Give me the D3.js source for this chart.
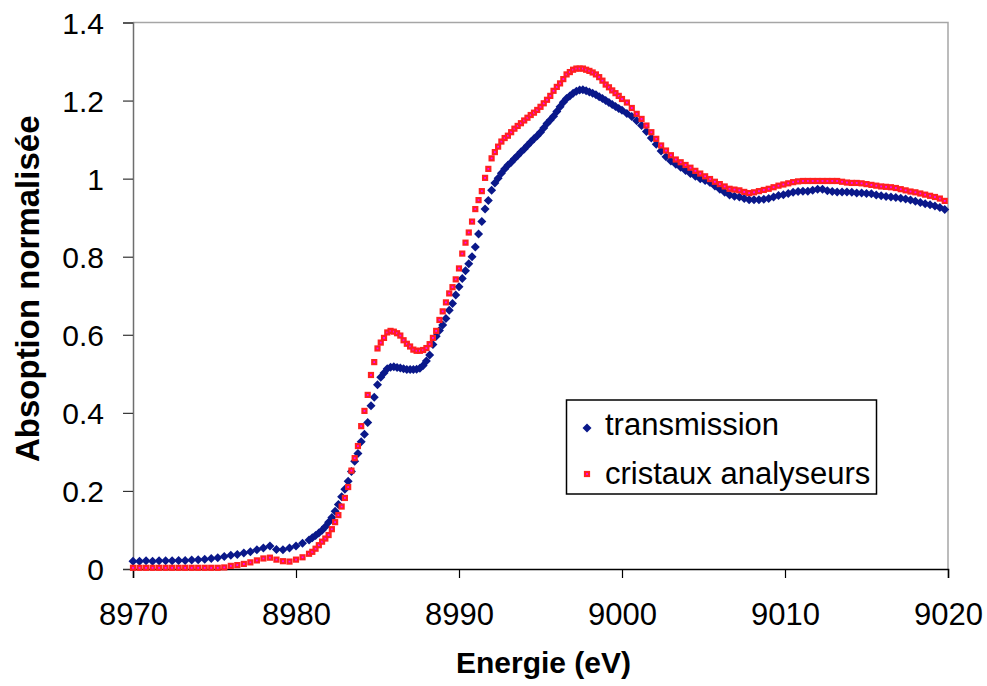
<!DOCTYPE html>
<html>
<head>
<meta charset="utf-8">
<script src="https://cdn.jsdelivr.net/npm/d3@7"></script>
<style>
  html, body { margin: 0; padding: 0; background: #fff; }
  svg { display: block; }
  text { font-family: "Liberation Sans", Arial, sans-serif; }
</style>
</head>
<body>
<svg id="chart" width="987" height="686"></svg>
<script>
// ---- Data ----
const energies = [
  8970, 8970.4, 8970.8, 8971.2, 8971.6, 8972, 8972.4, 8972.8, 8973.2, 8973.6,
  8974, 8974.4, 8974.8, 8975.2, 8975.6, 8976, 8976.4, 8976.8, 8977.2, 8977.6,
  8978, 8978.4, 8978.8, 8979.2, 8979.6, 8980, 8980.4, 8980.8,
  8981, 8981.2, 8981.4, 8981.6, 8981.8, 8982, 8982.2, 8982.4, 8982.6, 8982.8,
  8983, 8983.2, 8983.4, 8983.6, 8983.8, 8984, 8984.2, 8984.4, 8984.6, 8984.8,
  8985, 8985.2, 8985.4, 8985.6, 8985.8, 8986, 8986.2, 8986.4, 8986.6, 8986.8,
  8987, 8987.2, 8987.4, 8987.6, 8987.8, 8988, 8988.2, 8988.4, 8988.6, 8988.8,
  8989, 8989.2, 8989.4, 8989.6, 8989.8, 8990, 8990.2, 8990.4, 8990.6, 8990.8,
  8991, 8991.2, 8991.4, 8991.6, 8991.8, 8992, 8992.2, 8992.4, 8992.6, 8992.8,
  8993, 8993.2, 8993.4, 8993.6, 8993.8, 8994, 8994.2, 8994.4, 8994.6, 8994.8,
  8995, 8995.2, 8995.4, 8995.6, 8995.8, 8996, 8996.2, 8996.4, 8996.6, 8996.8,
  8997, 8997.2, 8997.4, 8997.6, 8997.8, 8998, 8998.2, 8998.4, 8998.6, 8998.8,
  8999, 8999.2, 8999.4, 8999.6, 8999.8,
  9000, 9000.3, 9000.6, 9000.9, 9001.2, 9001.5, 9001.8, 9002.1, 9002.4, 9002.7,
  9003, 9003.3, 9003.6, 9003.9, 9004.2, 9004.5, 9004.8, 9005.1, 9005.4, 9005.7,
  9006, 9006.3, 9006.6, 9006.9, 9007.2, 9007.5, 9007.8, 9008.1, 9008.4, 9008.7,
  9009, 9009.3, 9009.6, 9009.9, 9010.2, 9010.5, 9010.8, 9011.1, 9011.4, 9011.7,
  9012, 9012.3, 9012.6, 9012.9, 9013.2, 9013.5, 9013.8, 9014.1, 9014.4, 9014.7,
  9015, 9015.3, 9015.6, 9015.9, 9016.2, 9016.5, 9016.8, 9017.1, 9017.4, 9017.7,
  9018, 9018.3, 9018.6, 9018.9, 9019.2, 9019.5, 9019.8
];

const transmission = [
  0.020, 0.020, 0.021, 0.020, 0.021, 0.021, 0.021, 0.022, 0.022, 0.023,
  0.024, 0.025, 0.027, 0.029, 0.032, 0.035, 0.037, 0.041, 0.044, 0.049,
  0.054, 0.059, 0.050, 0.049, 0.054, 0.059, 0.066, 0.074,
  0.080, 0.086, 0.092, 0.099, 0.108, 0.120, 0.132, 0.148, 0.165, 0.185,
  0.204, 0.225, 0.250, 0.276, 0.296, 0.326, 0.345, 0.375, 0.418, 0.440,
  0.472, 0.491, 0.502, 0.513, 0.517, 0.518, 0.516, 0.515, 0.513, 0.511,
  0.511, 0.511, 0.512, 0.514, 0.521, 0.533, 0.548, 0.575, 0.596, 0.611,
  0.625, 0.642, 0.663, 0.680, 0.702, 0.723, 0.744, 0.764, 0.782, 0.800,
  0.825, 0.858, 0.890, 0.922, 0.944, 0.970, 0.989, 1.001, 1.014, 1.025,
  1.034, 1.042, 1.051, 1.059, 1.068, 1.076, 1.085, 1.094, 1.102, 1.110,
  1.119, 1.130, 1.141, 1.150, 1.160, 1.172, 1.184, 1.196, 1.205, 1.212,
  1.219, 1.224, 1.227, 1.228, 1.225, 1.222, 1.219, 1.215, 1.210, 1.205,
  1.200, 1.195, 1.190, 1.185, 1.180,
  1.175, 1.167, 1.159, 1.148, 1.136, 1.121, 1.104, 1.088, 1.071, 1.056,
  1.045, 1.037, 1.029, 1.021, 1.013, 1.006, 1.000, 0.995, 0.990, 0.981,
  0.973, 0.965, 0.958, 0.955, 0.953, 0.949, 0.946, 0.946, 0.946, 0.947,
  0.949, 0.953, 0.957, 0.959, 0.962, 0.965, 0.967, 0.968, 0.968, 0.970,
  0.973, 0.973, 0.969, 0.967, 0.966, 0.966, 0.966, 0.965, 0.963, 0.963,
  0.962, 0.961, 0.958, 0.956, 0.954, 0.953, 0.952, 0.950, 0.948, 0.945,
  0.942, 0.939, 0.936, 0.933, 0.930, 0.926, 0.921
];

const cristaux = [
  0.003, 0.003, 0.003, 0.003, 0.003, 0.003, 0.003, 0.003, 0.003, 0.003,
  0.003, 0.003, 0.003, 0.003, 0.004, 0.008, 0.010, 0.013, 0.017, 0.022,
  0.027, 0.029, 0.024, 0.020, 0.019, 0.024, 0.030, 0.039,
  0.044, 0.052, 0.061, 0.070, 0.078, 0.087, 0.102, 0.120, 0.138, 0.160,
  0.182, 0.210, 0.252, 0.284, 0.315, 0.366, 0.405, 0.446, 0.497, 0.530,
  0.565, 0.580, 0.592, 0.606, 0.610, 0.608, 0.604, 0.598, 0.586, 0.577,
  0.570, 0.562, 0.559, 0.559, 0.561, 0.566, 0.576, 0.592, 0.610, 0.638,
  0.660, 0.683, 0.706, 0.722, 0.742, 0.770, 0.808, 0.836, 0.862, 0.890,
  0.922, 0.945, 0.968, 1.002, 1.025, 1.052, 1.068, 1.082, 1.095, 1.104,
  1.110, 1.119, 1.128, 1.135, 1.142, 1.149, 1.156, 1.163, 1.169, 1.176,
  1.184, 1.193, 1.202, 1.212, 1.225, 1.235, 1.244, 1.255, 1.267, 1.273,
  1.279, 1.282, 1.282, 1.282, 1.279, 1.276, 1.272, 1.267, 1.260, 1.251,
  1.241, 1.234, 1.226, 1.219, 1.212,
  1.204, 1.195, 1.181, 1.166, 1.153, 1.136, 1.119, 1.102, 1.085, 1.072,
  1.060, 1.049, 1.042, 1.035, 1.028, 1.020, 1.013, 1.006, 0.999, 0.992,
  0.986, 0.980, 0.974, 0.972, 0.970, 0.966, 0.963, 0.965, 0.968, 0.971,
  0.974, 0.978, 0.982, 0.985, 0.988, 0.991, 0.993, 0.994, 0.994, 0.994,
  0.994, 0.994, 0.994, 0.994, 0.994, 0.992, 0.990, 0.989, 0.989, 0.988,
  0.986, 0.984, 0.982, 0.980, 0.979, 0.978, 0.976, 0.973, 0.970, 0.967,
  0.965, 0.962, 0.959, 0.956, 0.953, 0.949, 0.943
];

const xTicks = [8970, 8980, 8990, 9000, 9010, 9020];
const yTicks = [0, 0.2, 0.4, 0.6, 0.8, 1, 1.2, 1.4];
const seriesNames = ["transmission", "cristaux analyseurs"];
const xTitle = "Energie (eV)";
const yTitle = "Absoption normalisée";

// ---- Layout ----
const svg = d3.select("#chart");
const plot = { left: 133, right: 948, top: 22.5, bottom: 569 };

const x = d3.scaleLinear().domain([8970, 9020]).range([plot.left, plot.right]);
const y = d3.scaleLinear().domain([0, 1.4]).range([plot.bottom, plot.top]);

// plot border (top & right, light grey)
svg.append("path")
  .attr("d", `M${plot.left},${plot.top}H${plot.right}V${plot.bottom}`)
  .attr("fill", "none").attr("stroke", "#a6a6a6").attr("stroke-width", 1.5);

// Y axis
const yAxis = svg.append("g").attr("transform", `translate(${plot.left},0)`)
  .call(d3.axisLeft(y).tickValues(yTicks).tickSize(10).tickPadding(19)
    .tickFormat(d => String(d)));
yAxis.select(".domain").attr("stroke", "#6e6e6e").attr("stroke-width", 1.5);
yAxis.selectAll(".tick line").attr("stroke", "#333").attr("stroke-width", 1.2);
yAxis.selectAll(".tick text").attr("font-size", 30).attr("fill", "#000")
  .attr("font-family", "'Liberation Sans', Arial, sans-serif").attr("dy", "0.35em");

// X axis
const xAxis = svg.append("g").attr("transform", `translate(0,${plot.bottom})`)
  .call(d3.axisBottom(x).tickValues(xTicks).tickSize(9).tickPadding(25)
    .tickFormat(d3.format("d")));
xAxis.select(".domain").attr("stroke", "#000").attr("stroke-width", 1.5);
xAxis.selectAll(".tick line").attr("stroke", "#000").attr("stroke-width", 1.2);
xAxis.selectAll(".tick text").attr("font-size", 31).attr("fill", "#000")
  .attr("font-family", "'Liberation Sans', Arial, sans-serif");

// Axis titles
svg.append("text")
  .attr("x", (plot.left + plot.right) / 2 + 3).attr("y", 673)
  .attr("text-anchor", "middle").attr("font-weight", "bold").attr("font-size", 30)
  .text(xTitle);
svg.append("text")
  .attr("transform", `translate(39,${(plot.top + plot.bottom) / 2 - 7}) rotate(-90)`)
  .attr("text-anchor", "middle").attr("font-weight", "bold").attr("font-size", 33)
  .text(yTitle);

// ---- Series ----
const blue = "#0a188a";
const diamond = "M0,-4.5L4.5,0L0,4.5L-4.5,0Z";
const dataT = energies.map((e, i) => ({ e, v: transmission[i] }));
const dataC = energies.map((e, i) => ({ e, v: cristaux[i] }));

svg.append("g").selectAll("path").data(dataT).join("path")
  .attr("d", diamond)
  .attr("transform", d => `translate(${x(d.e)},${y(d.v)})`)
  .attr("fill", blue);

svg.append("g").selectAll("rect").data(dataC).join("rect")
  .attr("x", d => x(d.e) - 2).attr("y", d => y(d.v) - 2)
  .attr("width", 4).attr("height", 4)
  .attr("fill", "#ff00ff").attr("stroke", "#ff2020").attr("stroke-width", 2.2);

// ---- Legend ----
const lg = svg.append("g");
lg.append("rect").attr("x", 566.5).attr("y", 400).attr("width", 310).attr("height", 94)
  .attr("fill", "#fff").attr("stroke", "#000").attr("stroke-width", 1.5);
lg.append("path").attr("d", diamond).attr("transform", "translate(587,428)").attr("fill", blue);
lg.append("rect").attr("x", 585).attr("y", 472).attr("width", 4).attr("height", 4)
  .attr("fill", "#ff00ff").attr("stroke", "#ff2020").attr("stroke-width", 2.2);
lg.append("text").attr("x", 605).attr("y", 435).attr("font-size", 31).text(seriesNames[0]);
lg.append("text").attr("x", 605).attr("y", 484).attr("font-size", 31).text(seriesNames[1]);
</script>
</body>
</html>
